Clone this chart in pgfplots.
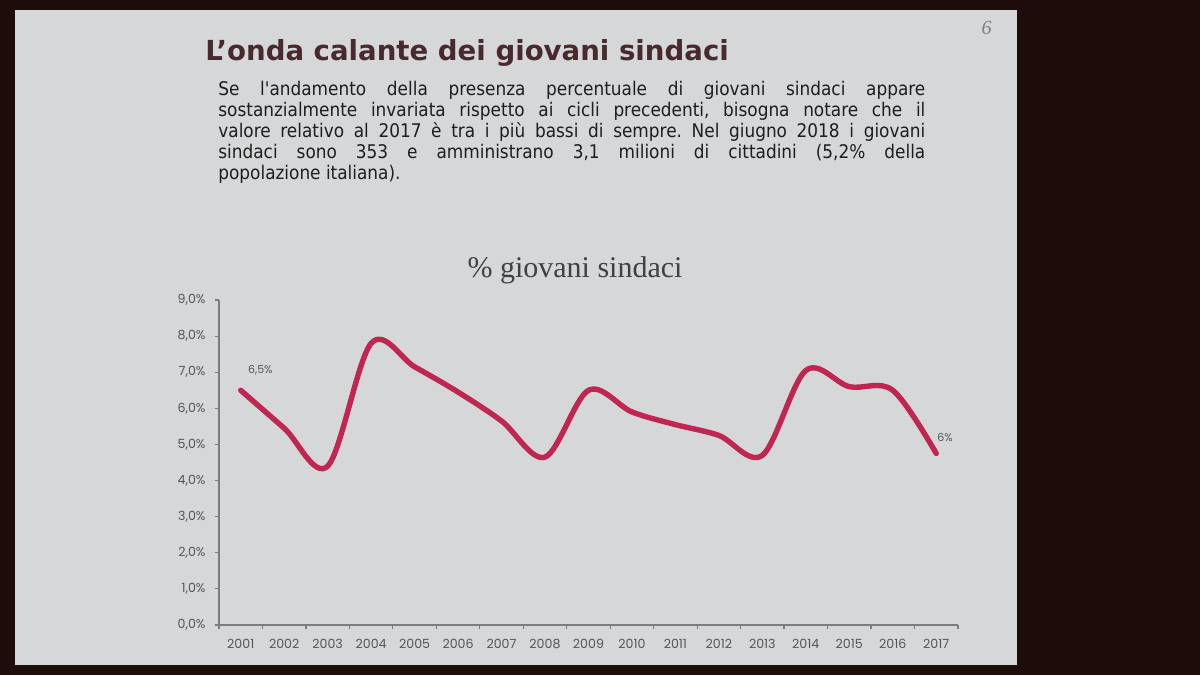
\documentclass[border=0pt]{standalone}
\usepackage{pgfplots}
\pgfplotsset{compat=1.18}
\usepackage{fontspec}
\setmainfont{DejaVu Sans}
\newfontfamily\bodyfont{DejaVu Sans Condensed}
\newfontfamily\tickfont{Poppins}
\newfontfamily\seriffont{Liberation Serif}
\definecolor{slidebg}{RGB}{214,215,216}
\definecolor{darkbg}{RGB}{30,12,10}
\definecolor{linecol}{RGB}{192,38,82}
\definecolor{titlecol}{RGB}{72,42,46}
\definecolor{txtcol}{RGB}{30,30,30}
\definecolor{axcol}{RGB}{125,125,125}
\definecolor{lblcol}{RGB}{85,85,85}
\frenchspacing
\begin{document}
\begin{tikzpicture}[x=1pt,y=1pt]
\fill[darkbg] (0,0) rectangle (600,337.5);
\fill[slidebg] (7.5,5) rectangle (508.5,332.5);
\node[anchor=north east, inner sep=0, text=gray, font=\seriffont\itshape\fontsize{10}{12}\selectfont] at (496,327) {6};
\node[anchor=north west, inner sep=0, text=titlecol, font=\fontsize{13.8}{15}\selectfont\bfseries] at (102.5,318) {L’onda calante dei giovani sindaci};
\node[anchor=north west, inner sep=0, text width=353.5pt, align=justify, text=txtcol, font=\bodyfont\fontsize{9.4}{10.5}\selectfont] at (109,297)
{Se l'andamento della presenza percentuale di giovani sindaci appare\linebreak
sostanzialmente invariata rispetto ai cicli precedenti, bisogna notare che il\linebreak
valore relativo al 2017 è tra i più bassi di sempre. Nel giugno 2018 i giovani\linebreak
sindaci sono 353 e amministrano 3,1 milioni di cittadini (5,2\% della\linebreak
popolazione italiana).};
\node[text=black!75, font=\seriffont\fontsize{15}{17}\selectfont] at (287.5,202.5) {\% giovani sindaci};
\begin{axis}[
  at={(109.5pt,25pt)}, anchor=south west,
  scale only axis, width=369.5pt, height=162.5pt,
  xmin=2000.5, xmax=2017.5, ymin=0, ymax=9,
  axis lines*=left,
  axis line style={draw=axcol, line width=0.6pt},
  tick style={draw=axcol, line width=0.6pt},
  tick align=outside,
  major tick length=2.2pt, minor tick length=2.2pt,
  ytick={0,1,...,9},
  xtick={2001,2002,...,2017},
  xticklabels={2001,2002,2003,2004,2005,2006,2007,2008,2009,2010,2011,2012,2013,2014,2015,2016,2017},
  major x tick style={draw=none},
  minor xtick={2000.5,2001.5,...,2017.5},
  /pgf/number format/assume math mode=true,
  /pgf/number format/use comma,
  yticklabel={\pgfmathprintnumber[fixed,fixed zerofill,precision=1]{\tick}\%},
  ticklabel style={font=\tickfont\fontsize{6.3}{7}\selectfont, text=lblcol},
  xticklabel style={yshift=-1.5pt},
  yticklabel style={xshift=-1pt},
  clip=false,
]
\addplot[linecol, line width=2.7pt, line cap=round, line join=round, smooth, tension=0.55] coordinates {
(2001,6.5) (2002,5.45) (2003,4.4) (2004,7.8) (2005,7.15) (2006,6.45) (2007,5.65) (2008,4.65)
(2009,6.5) (2010,5.9) (2011,5.55) (2012,5.25) (2013,4.7) (2014,7.05) (2015,6.6) (2016,6.5) (2017,4.75)};
\node[text=lblcol, font=\tickfont\fontsize{5.5}{6}\selectfont] at (axis cs:2001.45,7.05) {6,5\%};
\node[text=lblcol, font=\tickfont\fontsize{5.5}{6}\selectfont] at (axis cs:2017.2,5.2) {6\%};
\end{axis}
\end{tikzpicture}
\end{document}
